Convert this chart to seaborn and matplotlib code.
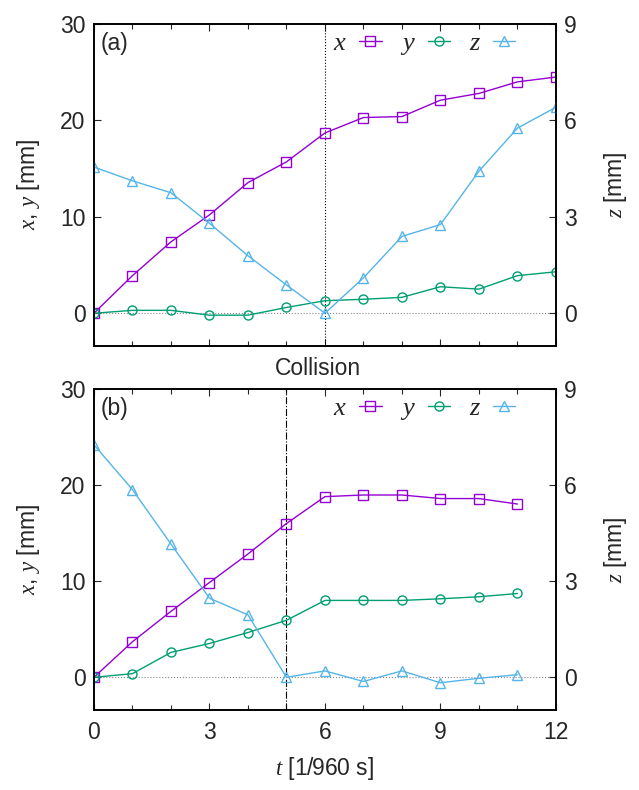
import numpy as np
import pandas as pd
import seaborn as sns
import matplotlib.pyplot as plt
from matplotlib.ticker import MultipleLocator
from matplotlib.lines import Line2D

# panel (a)
t_a = list(range(13))
x_a = [0, 3.9, 7.4, 10.2, 13.55, 15.7, 18.7, 20.3, 20.4, 22.1, 22.8, 24.0, 24.5]
y_a = [0, 0.3, 0.3, -0.2, -0.2, 0.6, 1.3, 1.45, 1.65, 2.75, 2.5, 3.9, 4.3]
z_a = [4.55, 4.12, 3.75, 2.8, 1.79, 0.88, 0, 1.1, 2.39, 2.76, 4.42, 5.76, 6.41]

# panel (b)
t_b = list(range(12))
x_b = [0, 3.7, 6.86, 9.86, 12.83, 16.0, 18.8, 18.97, 18.97, 18.6, 18.6, 18.03]
y_b = [0, 0.38, 2.59, 3.52, 4.66, 5.93, 8.0, 8.0, 8.0, 8.17, 8.38, 8.72]
z_b = [7.26, 5.86, 4.16, 2.47, 1.95, 0, 0.2, -0.13, 0.2, -0.17, -0.03, 0.08]

collision_a = 6
collision_b = 5

sns.set_style('white')
plt.rcParams['font.family'] = ['Liberation Sans', 'DejaVu Sans']
plt.rcParams['mathtext.fontset'] = 'custom'
plt.rcParams['mathtext.it'] = 'Liberation Serif:italic'
plt.rcParams['mathtext.rm'] = 'Liberation Sans'

c_x = '#9400d3'
c_y = '#009e73'
c_z = '#56b4e9'
fs = 16.5

fig = plt.figure(figsize=(6.39, 7.9), dpi=100)
ax_a = fig.add_axes([0.147, 0.562, 0.723, 0.4076])
ax_b = fig.add_axes([0.147, 0.1013, 0.723, 0.4063])


def draw(ax, t, xv, yv, zv, tc, ls, label, show_x):
    ax2 = ax.twinx()
    ax.axhline(0, color='#888888', lw=0.8, ls=':', zorder=1)
    ax.axvline(tc, color='black', lw=0.8, ls=ls, zorder=1)
    sns.lineplot(x=t, y=xv, ax=ax, color=c_x, lw=1, marker='s', ms=6.5,
                 mfc='none', mec=c_x, mew=1)
    sns.lineplot(x=t, y=yv, ax=ax, color=c_y, lw=1, marker='o', ms=6.5,
                 mfc='none', mec=c_y, mew=1)
    sns.lineplot(x=t, y=zv, ax=ax2, color=c_z, lw=1, marker='^', ms=7.5,
                 mfc='none', mec=c_z, mew=1)
    ax.set_xlim(0, 12)
    ax.set_ylim(-3.4, 30)
    ax2.set_ylim(-3.4 * 0.3, 9)
    ax.set_yticks([0, 10, 20, 30])
    ax2.set_yticks([0, 3, 6, 9])
    ax.xaxis.set_major_locator(MultipleLocator(3))
    ax.xaxis.set_minor_locator(MultipleLocator(1))
    ax.tick_params(axis='x', which='both', direction='in', top=True, bottom=True,
                   labelsize=fs, pad=8)
    ax.tick_params(axis='x', which='major', length=5, width=0.8)
    ax.tick_params(axis='x', which='minor', length=3.5, width=0.8)
    ax.tick_params(axis='y', direction='in', left=True, right=False, length=5,
                   width=0.8, labelsize=fs, pad=6)
    ax2.tick_params(axis='y', direction='in', right=True, length=5, width=0.8,
                    labelsize=fs, pad=6)
    if not show_x:
        ax.tick_params(axis='x', labelbottom=False)
    for a in (ax, ax2):
        for s in a.spines.values():
            s.set_linewidth(1.2)
            s.set_color('black')
    ax.set_ylabel('$x$, $y$ [mm]', fontsize=fs, labelpad=13)
    ax2.set_ylabel('$z$ [mm]', fontsize=fs, labelpad=18)
    ax.text(0.015, 0.975, label, transform=ax.transAxes, fontsize=fs,
            va='top', ha='left')
    handles = [
        Line2D([], [], color=c_x, lw=1, marker='s', ms=6.5, mfc='none', mew=1),
        Line2D([], [], color=c_y, lw=1, marker='o', ms=6.5, mfc='none', mew=1),
        Line2D([], [], color=c_z, lw=1, marker='^', ms=7.5, mfc='none', mew=1),
    ]
    ax.legend(handles, ['$x$', '$y$', '$z$'], loc='upper right', ncol=3,
              frameon=False, markerfirst=False, fontsize=fs + 2.5,
              handlelength=0.85, columnspacing=0.7, handletextpad=0.45,
              borderaxespad=0.0, bbox_to_anchor=(0.935, 1.01))
    return ax2


draw(ax_a, t_a, x_a, y_a, z_a, collision_a, ':', '(a)', False)
draw(ax_b, t_b, x_b, y_b, z_b, collision_b, '-.', '(b)', True)
ax_b.set_xlabel('$t$ [1/960 s]', fontsize=fs, labelpad=8)

fig.text(0.498, 0.533, 'Collision', fontsize=fs, ha='center', va='center')

fig.savefig('out.png', dpi=100)
